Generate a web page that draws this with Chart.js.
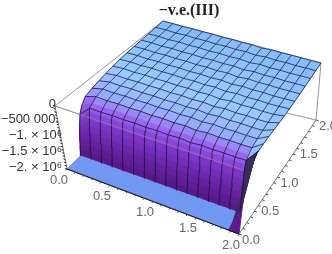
<!DOCTYPE html>
<html>
<head>
<meta charset="utf-8">
<style>
  html, body { margin: 0; padding: 0; background: #fff; }
  canvas { display: block; filter: blur(0.5px); }
</style>
<script src="https://cdn.jsdelivr.net/npm/chart.js@4"></script>
</head>
<body>
<canvas id="surface" width="332" height="254"></canvas>
<script>
const titleText = "\u2212v.e.(III)";
const xTicks = [0, 0.5, 1, 1.5, 2];
const yTicks = [0, 0.5, 1, 1.5, 2];
const zTicks = [0, -500000, -1000000, -1500000, -2000000];
const xTickLabels = ["0.0", "0.5", "1.0", "1.5", "2.0"];
const yTickLabels = ["0.0", "0.5", "1.0", "1.5", "2.0"];
const zTickLabels = ["0", "\u2212500 000.", "\u22121. \u00d7 10\u2076", "\u22121.5 \u00d7 10\u2076", "\u22122. \u00d7 10\u2076"];
const minorTicks = [0, 0.1, 0.2, 0.3, 0.4, 0.5, 0.6, 0.7, 0.8, 0.9, 1, 1.1, 1.2, 1.3, 1.4, 1.5, 1.6, 1.7, 1.8, 1.9, 2];
const zMinorTicks = [0, -100000, -200000, -300000, -400000, -500000, -600000, -700000, -800000, -900000, -1000000, -1100000, -1200000, -1300000, -1400000, -1500000, -1600000, -1700000, -1800000, -1900000, -2000000];

// mesh columns along x
const xStops = [0, 0.125, 0.25, 0.375, 0.5, 0.625, 0.75, 0.875, 1, 1.125, 1.25, 1.375, 1.5, 1.625, 1.75, 1.875, 2];
// rows along y
const yStops = [0, 0.05, 0.1, 0.2, 0.3, 0.31, 0.32, 0.33, 0.34, 0.35, 0.36, 0.38, 0.4, 0.45, 0.533, 0.667, 0.8, 0.933, 1.067, 1.2, 1.333, 1.467, 1.6, 1.733, 1.867, 2];
const yMeshLines = [0.4, 0.533, 0.667, 0.8, 0.933, 1.067, 1.2, 1.333, 1.467, 1.6, 1.733, 1.867, 2];
// z along y for the inner columns
const zInner = [-2000000, -2000000, -2000000, -2000000, -2000000, -1800000, -1600000, -1400000, -1200000, -1000000, -800000, -600000, -500000, -420000, -320000, -260000, -220000, -190000, -160000, -130000, -110000, -90000, -70000, -50000, -25000, 0];
// z along y for the edge columns x=0 and x=2
const zLeftEdge = [-2000000, -2000000, -2000000, -2000000, -2000000, -1850000, -1700000, -1550000, -1400000, -1300000, -1200000, -1000000, -800000, -600000, -420000, -340000, -280000, -230000, -180000, -140000, -110000, -90000, -70000, -50000, -25000, 0];
const zRightEdge = [-2000000, -1200000, -600000, -200000, -120000, -115000, -110000, -105000, -100000, -95000, -90000, -85000, -80000, -75000, -70000, -70000, -80000, -90000, -100000, -100000, -90000, -80000, -60000, -40000, -20000, 0];
// small waviness of the mesh per column
const columnRipple = [0, 8000, -6000, 10000, -4000, 6000, -10000, 5000, -12000, 9000, -25000, 12000, -8000, 6000, -5000, 4000, 0];

const xRange = [0, 2];
const yRange = [0, 2];
const zRange = [-2000000, 0];

// pixel position of the eight box corners, index is [x][y][z]
const boxCorners = [
  [[[67, 169], [55, 106]], [[158, 82], [163, 21]]],
  [[[239, 234], [243, 170]], [[316, 120], [321, 63]]],
];

function project(x, y, z) {
  const u = (x - xRange[0]) / (xRange[1] - xRange[0]);
  const v = (y - yRange[0]) / (yRange[1] - yRange[0]);
  const w = (z - zRange[0]) / (zRange[1] - zRange[0]);
  const pick = (k) => {
    const c = boxCorners;
    const front =
      (1 - u) * ((1 - w) * c[0][0][0][k] + w * c[0][0][1][k]) +
      u * ((1 - w) * c[1][0][0][k] + w * c[1][0][1][k]);
    const back =
      (1 - u) * ((1 - w) * c[0][1][0][k] + w * c[0][1][1][k]) +
      u * ((1 - w) * c[1][1][0][k] + w * c[1][1][1][k]);
    return (1 - v) * front + v * back;
  };
  return { x: pick(0), y: pick(1) };
}

function surfaceZ(col, row) {
  if (col === 0) return zLeftEdge[row];
  if (col === xStops.length - 1) return zRightEdge[row];
  if (yStops[row] < 0.4) return zInner[row];
  return Math.min(0, zInner[row] + columnRipple[col]);
}

// colour ramp along the height of the surface
const rampStops = [
  [0.0, [84, 22, 132]],
  [0.3, [104, 36, 165]],
  [0.6, [128, 58, 205]],
  [0.78, [156, 104, 240]],
  [0.85, [150, 170, 252]],
  [0.91, [152, 202, 255]],
  [1.0, [132, 188, 250]],
];

function rampColor(t) {
  for (let i = 1; i < rampStops.length; i++) {
    if (t <= rampStops[i][0]) {
      const a = rampStops[i - 1];
      const b = rampStops[i];
      const f = (t - a[0]) / (b[0] - a[0]);
      const rgb = a[1].map((val, k) => Math.round(val + (b[1][k] - val) * f));
      return `rgb(${rgb.join(",")})`;
    }
  }
  return "rgb(132,188,250)";
}

function cellColor(col, row) {
  const zs = [surfaceZ(col, row), surfaceZ(col + 1, row), surfaceZ(col, row + 1), surfaceZ(col + 1, row + 1)];
  const span = zRange[1] - zRange[0];
  // floor strip
  if (Math.max(...zs) === zRange[0]) return "rgb(112,152,242)";
  // back side of the wall at x=2
  if (col === xStops.length - 2 && zs[1] - zs[0] > 0.25 * span) return "rgb(58,44,88)";
  const mean = (zs[0] + zs[1] + zs[2] + zs[3]) / 4;
  return rampColor((mean - zRange[0]) / span);
}

function polyDataset(points, color) {
  return {
    data: points,
    showLine: true,
    fill: "shape",
    backgroundColor: color,
    borderColor: color,
    borderWidth: 1,
    pointRadius: 0,
    tension: 0,
  };
}

function lineDataset(points, color, width) {
  return {
    data: points,
    showLine: true,
    fill: false,
    borderColor: color,
    borderWidth: width,
    pointRadius: 0,
    tension: 0,
  };
}

const datasets = [];
const xMax = xRange[1];
const yMax = yRange[1];
const zMin = zRange[0];
const zMax = zRange[1];
const boxGrey = "rgb(150,150,150)";

// box edges behind the surface
datasets.push(lineDataset([project(0, 0, zMax), project(0, yMax, zMax), project(xMax, yMax, zMax), project(xMax, yMax, zMin), project(0, yMax, zMin)], boxGrey, 1));
datasets.push(lineDataset([project(0, 0, zMin), project(0, yMax, zMin)], boxGrey, 1));
datasets.push(lineDataset([project(0, 0, zMax), project(xMax, 0, zMax)], boxGrey, 1));

// surface cells, back to front
for (let row = yStops.length - 2; row >= 0; row--) {
  for (let col = 0; col < xStops.length - 1; col++) {
    datasets.push(polyDataset([
      project(xStops[col], yStops[row], surfaceZ(col, row)),
      project(xStops[col + 1], yStops[row], surfaceZ(col + 1, row)),
      project(xStops[col + 1], yStops[row + 1], surfaceZ(col + 1, row + 1)),
      project(xStops[col], yStops[row + 1], surfaceZ(col, row + 1)),
      project(xStops[col], yStops[row], surfaceZ(col, row)),
    ], cellColor(col, row)));
  }
}

// mesh lines
const meshColor = "rgba(20,14,50,0.72)";
yMeshLines.forEach((yVal) => {
  const row = yStops.indexOf(yVal);
  datasets.push(lineDataset(xStops.map((xVal, col) => project(xVal, yVal, surfaceZ(col, row))), meshColor, 1));
});
xStops.forEach((xVal, col) => {
  const pts = [];
  yStops.forEach((yVal, row) => {
    if (yVal >= 0.3) pts.push(project(xVal, yVal, surfaceZ(col, row)));
  });
  datasets.push(lineDataset(pts, meshColor, 1));
});

// box edge seen through the wall
datasets.push(lineDataset([project(0, 0, zMax), project(xMax, 0, zMax)], "rgba(150,140,150,0.55)", 1));

// front axes with their tick marks
datasets.push(lineDataset([project(0, 0, zMin), project(xMax, 0, zMin)], "rgb(25,25,25)", 1.2));
datasets.push(lineDataset([project(xMax, 0, zMin), project(xMax, yMax, zMin)], "rgb(120,120,120)", 1));
datasets.push(lineDataset([project(0, 0, zMin), project(0, 0, zMax)], "rgb(120,120,120)", 1));
minorTicks.forEach((val) => {
  datasets.push(lineDataset([project(val, 0, zMin), project(val, -0.03, zMin)], "rgb(60,60,60)", 1));
  datasets.push(lineDataset([project(xMax, val, zMin), project(xMax + 0.03, val, zMin)], "rgb(70,70,70)", 1));
});
zMinorTicks.forEach((zVal) => {
  datasets.push(lineDataset([project(0, 0, zVal), project(-0.02, 0, zVal)], "rgb(30,30,30)", 1));
});

const labelPlugin = {
  id: "labelPlugin",
  afterDraw(chart) {
    const { ctx, scales } = chart;
    const toPx = (p) => ({ x: scales.x.getPixelForValue(p.x), y: scales.y.getPixelForValue(p.y) });
    ctx.save();
    ctx.textBaseline = "middle";

    ctx.font = "bold 16px 'Liberation Serif'";
    ctx.fillStyle = "#222";
    ctx.textAlign = "center";
    ctx.fillText(titleText, 189, 11);

    ctx.font = "13px 'Liberation Sans'";
    ctx.fillStyle = "#666";
    xTicks.forEach((xVal, i) => {
      const p = toPx(project(xVal, 0, zMin));
      ctx.fillText(xTickLabels[i], p.x - 8, p.y + 11);
    });
    ctx.textAlign = "left";
    yTicks.forEach((yVal, i) => {
      const p = toPx(project(xMax, yVal, zMin));
      ctx.fillText(yTickLabels[i], p.x + 3, p.y + 6);
    });
    ctx.textAlign = "right";
    ctx.fillStyle = "#333";
    zTicks.forEach((zVal, i) => {
      const p = toPx(project(0, 0, zVal));
      ctx.fillText(zTickLabels[i], Math.min(p.x + 1, 62), p.y - 2);
    });
    ctx.restore();
  },
};

new Chart(document.getElementById("surface"), {
  type: "scatter",
  data: { datasets: datasets.reverse() },
  plugins: [labelPlugin],
  options: {
    responsive: false,
    animation: false,
    events: [],
    layout: { padding: 0 },
    scales: {
      x: { type: "linear", display: false, min: 0, max: 332 },
      y: { type: "linear", display: false, min: 0, max: 254, reverse: true },
    },
    plugins: { legend: { display: false }, tooltip: { enabled: false } },
  },
});
</script>
</body>
</html>
